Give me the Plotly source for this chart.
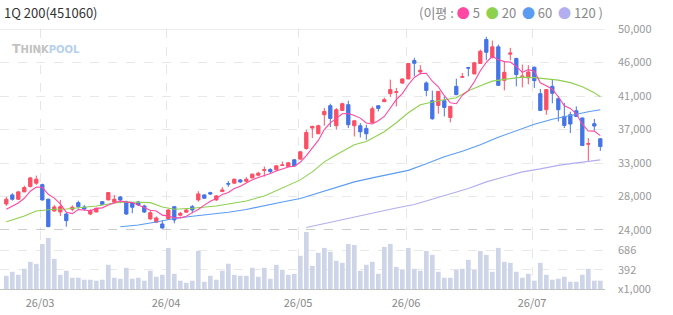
import plotly.graph_objects as go

# ---------------- data ----------------
idx = list(range(100))
month_start = [6, 27, 49, 67, 88]
month_labels = ["26/03", "26/04", "26/05", "26/06", "26/07"]

opens = [27370, 28540, 27980, 28930, 29620, 30060, 29870, 27980, 26460, 26330,
         26070, 26680, 27540, 26980, 26070, 26330, 27670, 27890, 27590, 28280,
         27670, 27540, 27630, 27110, 25430, 25000, 24780, 25430, 27020, 25910,
         26300, 27020, 27890, 28540, 28830, 27890, 28970, 30010, 30060, 30480,
         30310, 30740, 31090, 31700, 31820, 31780, 32350, 32210, 33080, 33170,
         34540, 37190, 36450, 38910, 40080, 37490, 39470, 40210, 37490, 37490,
         37140, 37910, 40080, 40600, 41640, 41800, 43000, 43540, 45920, 44450,
         43020, 40730, 40120, 40730, 38560, 42580, 43760, 45000, 44190, 45530,
         48640, 46340, 47690, 43360, 46750, 46180, 43830, 43670, 45050, 41640,
         39560, 42580, 40990, 38690, 38910, 39430, 38490, 35100, 37750, 35800]
highs = [28280, 28760, 29060, 29740, 30870, 31040, 30000, 28050, 27240, 27890,
         26200, 27200, 27800, 27240, 26680, 26880, 27720, 28900, 28540, 28410,
         27800, 27600, 27760, 27280, 26590, 25750, 25300, 26700, 27100, 26330,
         26720, 27240, 29020, 28600, 28950, 28540, 29540, 30350, 30640, 30610,
         30830, 31300, 31520, 32210, 32000, 32400, 32860, 32800, 33150, 34200,
         36970, 37490, 37620, 39780, 40340, 39780, 40470, 40730, 38200, 37840,
         37620, 39990, 40100, 41120, 43450, 42380, 43600, 45600, 46270, 45310,
         43230, 42030, 41950, 41290, 40050, 43580, 44320, 45100, 45700, 47340,
         48990, 48510, 47990, 45830, 47560, 46300, 45400, 45310, 45150, 42250,
         42200, 43450, 41290, 40430, 39300, 39990, 38550, 35890, 38360, 35900]
lows = [27110, 27800, 27890, 28900, 29510, 29840, 27800, 24400, 26400, 25815,
        24430, 26420, 26760, 26500, 25910, 26300, 27250, 27860, 27560, 27460,
        25950, 26165, 27110, 26200, 25350, 24910, 24200, 25400, 24870, 25750,
        26250, 26165, 27670, 28050, 28540, 27760, 28930, 29580, 29970, 30090,
        30130, 30700, 30940, 30910, 31260, 31700, 32300, 32150, 32170, 33100,
        34370, 35890, 36400, 37490, 37320, 36970, 39400, 37190, 36100, 35970,
        35670, 37850, 39340, 40550, 41210, 39990, 42950, 43500, 43880, 44100,
        41290, 38260, 39040, 38690, 37920, 41450, 43720, 43880, 44150, 45500,
        45950, 46200, 42650, 42060, 45950, 42580, 42450, 42840, 42380, 39400,
        38910, 40380, 38040, 37190, 36540, 38650, 34900, 32950, 36840, 34240]
closes = [27980, 27980, 28930, 29490, 30740, 30570, 27890, 24430, 26980, 27020,
          25210, 26940, 27020, 26720, 26500, 26810, 27280, 28840, 27980, 27890,
          26070, 26940, 27240, 26330, 26240, 25560, 24260, 26590, 25300, 26160,
          26590, 26590, 28670, 28110, 28660, 28410, 29190, 29940, 30570, 30220,
          30570, 31220, 31350, 31800, 31560, 32300, 32420, 32690, 32300, 34110,
          36620, 37400, 37490, 39340, 38430, 39560, 40340, 37620, 38130, 36710,
          36450, 39690, 39730, 40860, 42160, 41880, 43540, 45530, 45570, 44660,
          42060, 38390, 41930, 39860, 39990, 41510, 43830, 44940, 45620, 47120,
          46990, 47690, 42710, 44400, 46880, 44100, 43900, 44450, 43320, 39470,
          42160, 41680, 39560, 37530, 37710, 38690, 34930, 35170, 37450, 34800]
volume_k = [299, 360, 314, 405, 511, 481, 783, 874, 556, 314,
            375, 269, 269, 239, 239, 224, 239, 466, 269, 254,
            420, 254, 269, 224, 375, 284, 314, 723, 329, 224,
            193, 224, 677, 208, 299, 239, 375, 481, 314, 299,
            299, 420, 284, 420, 254, 466, 390, 314, 329, 602,
            965, 450, 647, 723, 662, 526, 496, 783, 768, 375,
            466, 511, 329, 738, 783, 435, 390, 723, 405, 375,
            677, 617, 360, 269, 269, 390, 405, 541, 390, 677,
            617, 360, 723, 511, 496, 360, 269, 329, 224, 496,
            314, 239, 254, 284, 208, 208, 314, 405, 224, 224]

ma5 = [26680, 27050, 27500, 28100, 29024, 29542, 29524, 28624, 28122, 27378,
       26306, 26116, 26634, 26582, 26478, 26798, 26866, 27230, 27482, 27760,
       27612, 27544, 27224, 26894, 26564, 26462, 25926, 25796, 25590, 25574,
       25780, 26246, 26662, 27224, 27724, 28088, 28608, 28862, 29354, 29666,
       30098, 30504, 30786, 31032, 31300, 31646, 31886, 32154, 32254, 32764,
       33628, 34624, 35584, 36992, 37856, 38444, 39032, 39058, 38816, 38472,
       37850, 37720, 38142, 38688, 39778, 40864, 41634, 42794, 43736, 44236,
       44272, 43242, 42522, 41380, 40446, 40336, 41424, 42026, 43178, 44604,
       45700, 46472, 46026, 45782, 45734, 45156, 44398, 44746, 44530, 43048,
       42660, 42216, 41238, 40080, 39728, 39034, 37684, 36806, 36790, 36208]
ma20_idx = [0, 3, 5, 8, 10, 15, 18, 20, 24, 26, 28, 31, 35, 38, 40, 43, 46, 49,
            51, 53, 55, 58, 60, 63, 65, 67, 69, 72, 75, 77, 79, 81, 84, 86, 88,
            90, 92, 94, 96, 98, 99]
ma20 = [25076, 25815, 26463, 26683, 26723, 27112, 27501, 27631, 27540, 26982,
        26683, 26813, 27112, 27462, 27760, 28409, 29446, 30484, 31521, 32818,
        33726, 35023, 35451, 36708, 37875, 39172, 40210, 40728, 41117, 42025,
        42673, 43257, 43581, 43776, 43711, 43516, 43387, 43063, 42544, 41766,
        41247]
ma60_idx = [19, 22, 25, 28, 31, 34, 37, 40, 43, 46, 49, 52, 55, 58, 61, 64, 67,
            70, 73, 76, 79, 82, 85, 88, 91, 94, 97, 99]
ma60 = [24419, 24648, 25037, 25491, 25776, 26010, 26295, 26658, 27177, 27631,
        28085, 28798, 29511, 30225, 30743, 31197, 31716, 32559, 33467, 34180,
        35023, 35996, 36838, 37681, 38330, 38848, 39302, 39561]
ma120_idx = [50, 53, 56, 59, 62, 65, 68, 71, 74, 77, 80, 83, 86, 89, 92, 95, 97, 99]
ma120 = [24324, 24840, 25361, 25880, 26399, 26852, 27306, 28020, 28733, 29381,
         30225, 30873, 31521, 31910, 32364, 32688, 32883, 33077]

price_ticks = [24000, 28333.33, 32666.67, 37000, 41333.33, 45666.67, 50000]
price_labels = ["24,000", "28,000", "33,000", "37,000", "41,000", "46,000", "50,000"]
vol_ticks = [98, 392, 686]
vol_labels = ["x1,000", "392", "686"]
vol_range = [98, 980]

# ---------------- styles ----------------
UP = "#fb4f65"
DOWN = "#4474e6"
C5, C20, C60, C120 = "#ff47a3", "#8ed14e", "#5b9cf3", "#b2aeef"
FONT = "Noto Sans CJK KR, Noto Sans, sans-serif"
tickpos = [m - 0.38 for m in month_start]
xr = [-1.05, 99.78]

fig = go.Figure()
fig.add_trace(go.Bar(x=idx, y=volume_k, marker=dict(color="#cfd5e8", line=dict(width=0)),
                     xaxis="x2", yaxis="y2", hoverinfo="skip"))
fig.add_trace(go.Scatter(x=ma120_idx, y=ma120, mode="lines", line=dict(color=C120, width=1.1)))
fig.add_trace(go.Scatter(x=ma60_idx, y=ma60, mode="lines", line=dict(color=C60, width=1.1)))
fig.add_trace(go.Scatter(x=ma20_idx, y=ma20, mode="lines", line=dict(color=C20, width=1.1)))
fig.add_trace(go.Scatter(x=idx, y=ma5, mode="lines", line=dict(color=C5, width=1.1)))
fig.add_trace(go.Candlestick(
    x=idx, open=opens, high=highs, low=lows, close=closes,
    increasing=dict(line=dict(color=UP, width=1), fillcolor=UP),
    decreasing=dict(line=dict(color=DOWN, width=1), fillcolor=DOWN),
    whiskerwidth=0))

fig.update_layout(
    width=673, height=315,
    margin=dict(l=0, r=68, t=29, b=26),
    paper_bgcolor="white", plot_bgcolor="white",
    showlegend=False, bargap=0.22, boxgap=0.22,
    font=dict(family=FONT, color="#999", size=11),
    xaxis=dict(domain=[0, 1], anchor="y", range=xr, tickvals=tickpos, showticklabels=False,
               showgrid=True, gridcolor="#e6e6e6", griddash="dash", zeroline=False,
               rangeslider=dict(visible=False), ticks=""),
    xaxis2=dict(domain=[0, 1], anchor="y2", range=xr, tickvals=tickpos, ticktext=month_labels,
                showgrid=True, gridcolor="#e6e6e6", griddash="dash", zeroline=False,
                showline=True, linecolor="#c4c4c4", linewidth=1, ticks="",
                ticklabelstandoff=4, tickfont=dict(size=11, color="#888")),
    yaxis=dict(domain=[0.2269, 1], range=[price_ticks[0], price_ticks[-1]], side="right",
               tickvals=price_ticks, ticktext=price_labels, showgrid=True,
               gridcolor="#e8e8e8", griddash="dash", zeroline=False, ticks="",
               ticklabelstandoff=12, tickfont=dict(size=11, color="#999")),
    yaxis2=dict(domain=[0, 0.2231], range=vol_range, side="right", tickvals=vol_ticks,
                ticktext=vol_labels, showgrid=True, gridcolor="#e8e8e8", griddash="dash",
                zeroline=False, ticks="", ticklabelstandoff=12,
                tickfont=dict(size=11, color="#999")),
)

fig.add_shape(type="line", xref="paper", x0=0, x1=1, yref="y", y0=price_ticks[-1], y1=price_ticks[-1],
              line=dict(color="#dcdcdc", width=1))
fig.add_shape(type="line", xref="paper", x0=0, x1=1, yref="y", y0=price_ticks[0], y1=price_ticks[0],
              line=dict(color="#9a9a9a", width=1, dash="dash"))

fig.add_annotation(text="1Q 200(451060)", xref="paper", yref="paper", x=0.003, y=1.065,
                   xanchor="left", yanchor="middle", showarrow=False,
                   font=dict(size=13, color="#333", family=FONT))
legend_txt = ("(이평 : <span style='color:%s'>●</span> 5  <span style='color:%s'>●</span> 20  "
              "<span style='color:%s'>●</span> 60  <span style='color:%s'>●</span> 120 )") % (C5, C20, C60, C120)
fig.add_annotation(text=legend_txt, xref="paper", yref="paper", x=1.0, y=1.065,
                   xanchor="right", yanchor="middle", showarrow=False,
                   font=dict(size=13, color="#888", family=FONT))
fig.add_annotation(text="<b>T<span style='font-size:10px'>HINK</span><span style='color:#b5d0ee;font-size:10px'>POOL</span></b>",
                   xref="paper", yref="paper", x=0.017, y=0.925, xanchor="left", yanchor="middle",
                   showarrow=False, font=dict(size=12.5, color="#c2c2c2", family="DejaVu Sans"))

fig.write_html("out.html")
